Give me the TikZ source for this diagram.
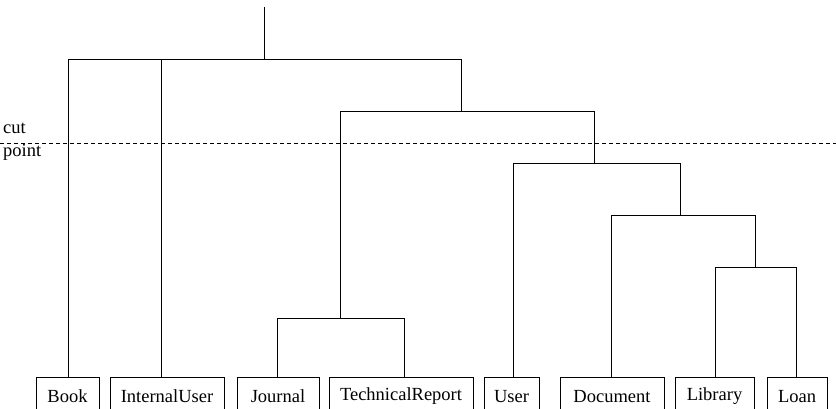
\documentclass[tikz,border=0pt]{standalone}
\usepackage{fontspec}
\setmainfont{Liberation Serif}
\begin{document}
\begin{tikzpicture}[x=1pt,y=-1pt,
  leaf/.style={draw, line width=0.8pt, anchor=north, minimum height=38pt, inner sep=0pt, font=\fontsize{18.5}{21}\selectfont},
  tree/.style={line width=0.8pt},
  cutline/.style={line width=0.8pt, dash pattern=on 4pt off 3pt},
  lbl/.style={font=\fontsize{18.5}{21}\selectfont, inner sep=0pt, anchor=base west}]
\useasboundingbox (0,0) rectangle (836,409);
\clip (0,0) rectangle (836,409);
% leaves
\node[leaf, minimum width=63pt]  (book) at (67.5,377) {Book};
\node[leaf, minimum width=114pt] (iu)   at (167,377) {InternalUser};
\node[leaf, minimum width=82pt]  (jou)  at (278,377) {Journal};
\node[leaf, minimum width=144pt] (tr)   at (401,377) {TechnicalReport};
\node[leaf, minimum width=55pt]  (usr)  at (511.5,377) {User};
\node[leaf, minimum width=104pt] (doc)  at (612,377) {Document};
\node[leaf, minimum width=79pt]  (lib)  at (714.5,377) {Library};
\node[leaf, minimum width=60pt]  (loan) at (797,377) {Loan};
% junctions
\coordinate (top) at (264,7);
\coordinate (j0) at (264,59);
\coordinate (j1) at (461,111);
\coordinate (j2) at (340,318);
\coordinate (j3) at (594,163);
\coordinate (j4) at (680,215);
\coordinate (j5) at (755,267);
% root
\draw[tree] (top) -- (j0);
\draw[tree] (68,0 |- book.north) -- (68,59) -- (461,59) -- (j1);
\draw[tree] (161,59) -- (161,0 |- iu.north);
% level 1
\draw[tree] (j2) -- (340,111) -- (594,111) -- (j3);
% Journal / TechnicalReport
\draw[tree] (277,0 |- jou.north) -- (277,318) -- (404,318) -- (404,0 |- tr.north);
% User branch
\draw[tree] (513,0 |- usr.north) -- (513,163) -- (680,163) -- (j4);
\draw[tree] (611,0 |- doc.north) -- (611,215) -- (755,215) -- (j5);
\draw[tree] (715,0 |- lib.north) -- (715,267) -- (796,267) -- (796,0 |- loan.north);
% cut line
\coordinate (cl) at (0,143);
\coordinate (cr) at (836,143);
\draw[cutline] (cl) -- (cr);
\node[lbl] (cut) at (3,134) {cut};
\node[lbl] (point) at (3,157) {point};
\end{tikzpicture}
\end{document}
